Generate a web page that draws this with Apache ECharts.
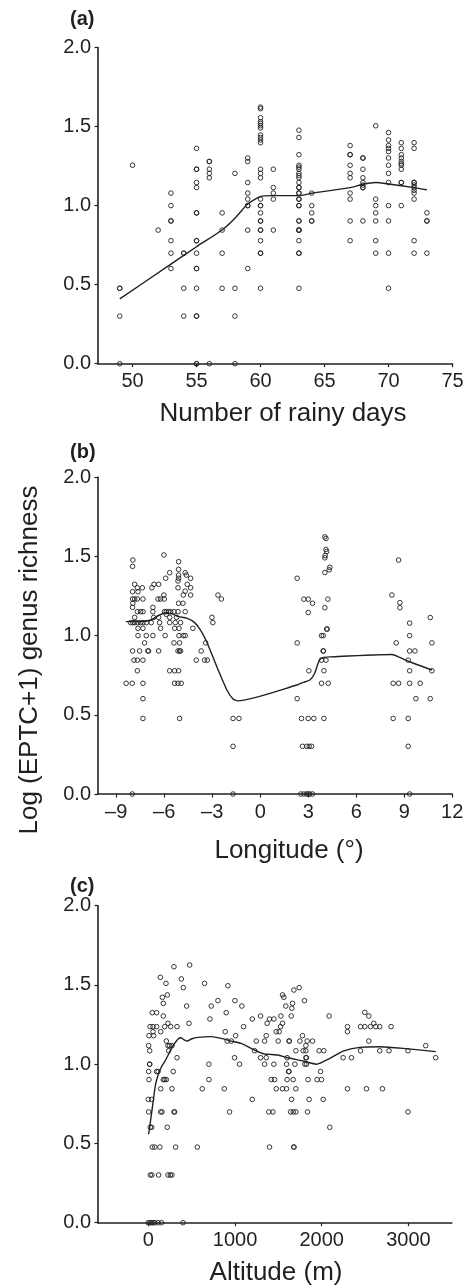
<!DOCTYPE html>
<html><head><meta charset="utf-8">
<script src="https://cdn.jsdelivr.net/npm/echarts@6/dist/echarts.min.js"></script>
<style>html,body{margin:0;padding:0;background:#fff}#c{width:473px;height:1286px}</style>
</head><body><div id="c"></div>
<script>
// ---------- Panel (a): Number of rainy days ----------
const rainyDayValues = [49,50,52,53,54,55,56,57,58,59,60,61,63,64,67,68,69,70,71,72,73];
const richnessByRainyDay = [
  [0.477,0.477,0.301,0],
  [1.255],
  [0.845],
  [1.079,1.0,0.903,0.903,0.778,0.699,0.602],
  [0.699,0.699,0.477,0.301],
  [1.362,1.230,1.230,1.146,1.114,0.954,0.954,0.778,0.778,0.699,0.602,0.602,0.477,0.301,0.301,0,0],
  [1.279,1.279,1.230,1.204,1.176,0],
  [0.954,0.845,0.699,0.477],
  [1.204,0.477,0.301,0],
  [1.301,1.279,1.146,1.079,1.041,1.0,1.0,0.845,0.602],
  [1.623,1.613,1.556,1.531,1.519,1.505,1.491,1.447,1.431,1.415,1.398,1.230,1.204,1.176,1.041,1.0,1.0,0.954,0.903,0.903,0.845,0.845,0.778,0.699,0.699,0.477],
  [1.230,1.114,1.079,1.041,0.845],
  [1.477,1.431,1.322,1.255,1.243,1.230,1.204,1.190,1.176,1.146,1.114,1.114,1.079,1.079,1.041,1.041,1.0,1.0,0.903,0.903,0.845,0.845,0.845,0.778,0.699,0.699,0.477],
  [1.079,1.0,0.954,0.903,0.903],
  [1.380,1.322,1.322,1.255,1.204,1.176,1.079,1.041,0.903,0.778],
  [1.301,1.301,1.230,1.176,1.146,1.130,1.114,1.114,0.903],
  [1.505,1.041,1.0,0.954,0.903,0.778,0.699],
  [1.462,1.415,1.380,1.362,1.342,1.301,1.255,1.204,1.146,1.0,0.903,0.699,0.477],
  [1.398,1.362,1.322,1.301,1.279,1.265,1.255,1.230,1.146,1.146,1.0],
  [1.398,1.362,1.146,1.146,1.130,1.114,1.097,1.079,1.041,0.778,0.699],
  [0.954,0.903,0.903,0.699]
];
const rainyLoessX = [49,53,55,57,58,59,60,61,63,64,67,68,69,70,72,73];
const rainyLoessY = [0.41,0.63,0.74,0.846,0.92,1.01,1.058,1.063,1.063,1.078,1.114,1.135,1.146,1.137,1.114,1.10];
const rainyTicks = [50,55,60,65,70,75];

// ---------- Panel (b): Longitude ----------
const lonX = [-7.96,-7.98,-6.02,-5.10,-5.10,-5.10,-5.10,-5.14,-5.66,-5.91,-4.69,-4.62,-4.35,-4.56,-4.35,-4.69,-4.35,-4.81,
  -7.85,-7.68,-7.37,-6.77,-6.64,-6.35,-5.14,-7.98,-7.64,-7.98,-7.85,-7.68,-7.33,-6.39,-6.23,-6.02,-6.00,-5.10,-4.83,-7.96,-7.98,
  -7.68,-7.48,-7.33,-6.71,-6.71,-5.98,-5.87,-5.73,-5.60,-5.39,-5.14,-4.69,-7.85,-6.66,-6.35,-5.87,-5.66,-5.23,
  -8.10,-7.96,-7.85,-7.68,-7.48,-7.33,-7.12,-6.81,-6.29,-5.66,-5.31,-4.98,-7.64,-7.33,-6.23,-5.35,-5.08,-4.21,
  -7.64,-7.12,-6.71,-5.94,-5.08,-4.81,-4.69,-7.23,-5.39,-5.04,-3.41,-7.98,-7.54,-7.02,-6.98,-6.35,-5.14,-5.04,-4.98,-3.69,
  -7.89,-7.68,-7.33,-4.00,-3.48,-3.31,-7.68,-5.66,-5.35,-5.10,-8.38,-8.00,-7.33,-5.35,-5.14,-4.94,-7.33,-7.33,-5.04,
  -1.70,-1.33,-1.70,-8.00,-1.70,-2.64,-2.43,-3.02,-2.96,
  4.04,4.11,4.11,4.15,4.06,4.04,4.35,4.31,4.04,2.31,2.73,3.00,3.27,3.00,4.23,4.04,4.19,4.15,3.83,3.94,2.31,3.94,3.94,
  3.83,4.11,3.04,3.98,3.83,4.25,2.31,2.58,3.00,3.35,3.98,2.64,2.90,3.06,3.21,2.54,2.73,2.90,3.00,3.10,3.27,
  8.65,8.23,8.73,8.73,10.63,9.34,9.34,10.73,8.50,9.34,9.67,9.25,9.34,10.73,8.31,8.65,9.34,10.0,9.73,10.63,8.31,9.25,9.25,9.34];
const lonY = [1.477,1.437,1.509,1.467,1.418,1.382,1.362,1.345,1.397,1.362,1.397,1.382,1.362,1.324,1.302,1.281,1.256,1.256,
  1.324,1.302,1.302,1.302,1.324,1.324,1.302,1.277,1.277,1.231,1.231,1.231,1.231,1.231,1.231,1.256,1.231,1.204,1.204,1.204,1.178,
  1.151,1.151,1.151,1.178,1.151,1.151,1.151,1.151,1.151,1.151,1.151,1.151,1.115,1.115,1.115,1.134,1.115,1.115,
  1.082,1.082,1.082,1.082,1.082,1.082,1.082,1.082,1.082,1.082,1.082,1.082,1.046,1.046,1.046,1.046,1.046,1.046,
  1.0,1.0,1.0,1.0,1.0,1.0,1.0,0.954,0.954,0.954,0.954,0.903,0.903,0.903,0.903,0.903,0.903,0.903,0.903,0.903,
  0.845,0.845,0.845,0.845,0.845,0.845,0.778,0.778,0.778,0.778,0.699,0.699,0.699,0.699,0.699,0.699,0.602,0.477,0.477,
  0.477,0.477,0.301,0,0,1.256,1.231,1.115,1.082,
  1.623,1.613,1.544,1.531,1.505,1.491,1.431,1.415,1.398,1.362,1.230,1.230,1.204,1.146,1.230,1.176,1.041,1.041,1.0,1.0,0.954,0.903,0.903,
  0.845,0.845,0.778,0.778,0.699,0.699,0.602,0.477,0.477,0.477,0.477,0.301,0.301,0.301,0.301,0,0,0,0,0,0,
  1.477,1.256,1.208,1.176,1.114,1.079,1.0,0.954,0.954,0.903,0.903,0.845,0.778,0.778,0.699,0.699,0.699,0.699,0.602,0.602,0.477,0.477,0.301,0];
const lonLoessX = [-8.4,-7.5,-6.8,-6.3,-6.0,-5.6,-5.1,-4.6,-4.1,-3.7,-3.3,-2.7,-2.1,-1.7,-1.4,2.3,2.7,3.1,3.4,3.7,3.95,4.35,8.23,8.73,9.34,10.73];
const lonLoessY = [1.088,1.088,1.10,1.13,1.141,1.14,1.12,1.11,1.082,1.03,0.95,0.80,0.66,0.60,0.588,0.688,0.705,0.72,0.761,0.846,0.862,0.866,0.881,0.862,0.835,0.783];
const lonTicks = [-9,-6,-3,0,3,6,9,12];

// ---------- Panel (c): Altitude ----------
const altX = [296,477,139,204,381,404,649,918,162,219,173,442,726,803,999,1079,46,96,173,899,711,469,20,54,96,143,54,189,227,258,331,
  8,62,887,1007,1099,1199,1295,1371,1398,1448,4,16,208,227,246,273,235,910,957,1245,1341,1360,1475,331,995,1225,1295,1360,
  16,16,699,1052,1341,1448,4,96,113,288,8,173,189,208,699,1418,1456,143,273,622,876,1475,0,38,1199,4,143,158,296,304,937,1390,1437,
  23,38,219,46,75,133,315,565,1398,23,42,119,227,254,273,0,19,38,56,75,113,152,400,
  1740,1679,1548,1563,1801,1586,1663,1656,1648,1529,1548,1525,1509,2085,2497,2543,2297,2297,2447,2497,2562,2600,2623,2669,2800,
  1498,1624,1624,1748,1832,1894,1778,1817,2543,3199,1702,1786,1817,1970,2024,2447,2669,2776,2995,1601,1817,1824,2247,2343,3314,
  1594,1690,1805,1824,1986,1617,1624,1601,1671,1843,1947,1997,1548,1594,1702,2297,2516,2700,1652,1855,2017,1640,1671,1702,1836,2995,
  2093,1679,1679];
const altY = [1.615,1.626,1.548,1.510,1.538,1.483,1.510,1.495,1.422,1.437,1.384,1.367,1.367,1.401,1.401,1.367,1.325,1.325,1.304,1.325,1.285,1.258,1.237,1.237,1.237,1.205,1.205,1.237,1.258,1.237,1.237,
  1.180,1.180,1.205,1.180,1.237,1.285,1.304,1.258,1.285,1.285,1.117,1.085,1.146,1.117,1.117,1.117,1.085,1.146,1.146,1.146,1.146,1.180,1.205,1.041,1.041,1.085,1.041,1.041,
  1.0,1.0,1.0,1.0,1.0,1.0,0.954,0.954,0.954,0.954,0.903,0.903,0.903,0.903,0.903,0.903,0.903,0.845,0.845,0.845,0.845,0.845,0.778,0.778,0.778,0.699,0.699,0.699,0.699,0.699,0.699,0.699,0.699,
  0.602,0.602,0.602,0.477,0.477,0.477,0.477,0.477,0.477,0.301,0.301,0.301,0.301,0.301,0.301,0,0,0,0,0,0,0,0,
  1.483,1.468,1.437,1.422,1.401,1.367,1.384,1.353,1.304,1.304,1.258,1.237,1.205,1.304,1.327,1.304,1.237,1.205,1.237,1.237,1.237,1.258,1.237,1.237,1.237,
  1.146,1.146,1.146,1.146,1.146,1.146,1.180,1.117,1.146,1.117,1.085,1.085,1.085,1.085,1.085,1.085,1.085,1.085,1.085,1.041,1.041,1.041,1.041,1.041,1.041,
  1.0,1.0,1.0,1.0,0.954,0.954,0.954,0.903,0.903,0.903,0.903,0.903,0.845,0.845,0.845,0.845,0.845,0.845,0.778,0.778,0.778,0.699,0.699,0.699,0.699,0.699,
  0.602,0.477,0.477];
const altLoessX = [4,27,56,83,113,152,189,229,267,305,344,374,413,450,496,572,726,841,957,1071,1225,1341,1402,1495,1594,1786,1940,2094,2247,2439,2670,2939,3315];
const altLoessY = [0.558,0.648,0.764,0.869,0.932,0.984,1.016,1.058,1.10,1.132,1.159,1.167,1.154,1.146,1.159,1.169,1.174,1.163,1.146,1.131,1.089,1.064,1.062,1.058,1.042,1.02,1.0,1.037,1.083,1.106,1.11,1.10,1.079];
const altTicks = [0,1000,2000,3000];

const yTicks = [0,0.5,1.0,1.5,2.0];

// ---------- chart ----------
const ink = '#231f20';
const FF = '"Liberation Sans", Arial, Helvetica, sans-serif';

function pairs(xs, ys) { return xs.map((x, i) => [x, ys[i]]); }
const rainyPts = [];
rainyDayValues.forEach((d, i) => richnessByRainyDay[i].forEach(v => rainyPts.push([d, v])));

const grids = [
  {left: 98, top: 47.5, width: 354.5, height: 316.2},
  {left: 98, top: 477.2, width: 354.2, height: 316.8},
  {left: 98, top: 905.7, width: 353.8, height: 317}
];
function xAx(gi, min, max, ticks, fmt) {
  return {type: 'value', gridIndex: gi, min: min, max: max,
    axisLine: {show: true, onZero: false, lineStyle: {color: ink, width: 1.6}},
    axisTick: {show: true, length: 3.5, customValues: ticks, lineStyle: {color: ink, width: 1.2}},
    axisLabel: {customValues: ticks, margin: 8, fontSize: 20, color: ink, fontFamily: FF, formatter: fmt},
    splitLine: {show: false}};
}
function yAx(gi) {
  return {type: 'value', gridIndex: gi, min: 0, max: 2,
    axisLine: {show: true, onZero: false, lineStyle: {color: ink, width: 1.6}},
    axisTick: {show: true, length: 3.5, customValues: yTicks, lineStyle: {color: ink, width: 1.2}},
    axisLabel: {customValues: yTicks, margin: 7, fontSize: 20, color: ink, fontFamily: FF, formatter: v => Number(v).toFixed(1)},
    splitLine: {show: false}};
}
function scat(i, data) {
  return {type: 'scatter', xAxisIndex: i, yAxisIndex: i, data: data, symbol: 'circle', symbolSize: 4.6, silent: true,
    itemStyle: {color: 'rgba(255,255,255,0)', borderColor: ink, borderWidth: 0.9, opacity: 1}};
}
function loess(i, data) {
  return {type: 'line', xAxisIndex: i, yAxisIndex: i, data: data, symbol: 'none', showSymbol: false, smooth: 0.2, silent: true,
    lineStyle: {color: ink, width: 1.4}};
}
function txt(x, y, s, size, weight, align, rot) {
  return {type: 'text', x: x, y: y, rotation: rot || 0, silent: true,
    style: {text: s, fill: ink, font: (weight || 'normal') + ' ' + size + 'px ' + FF, textAlign: align || 'left', textVerticalAlign: 'middle'}};
}

const chart = echarts.init(document.getElementById('c'), null, {renderer: 'canvas'});
chart.setOption({
  animation: false,
  backgroundColor: '#ffffff',
  grid: grids,
  xAxis: [
    xAx(0, 47.3, 75, rainyTicks, v => String(v)),
    xAx(1, -10.14, 12, lonTicks, v => (v < 0 ? '\u2013' + Math.abs(v) : String(v))),
    xAx(2, -580, 3500, altTicks, v => String(v))
  ],
  yAxis: [yAx(0), yAx(1), yAx(2)],
  series: [
    scat(0, rainyPts), loess(0, pairs(rainyLoessX, rainyLoessY)),
    scat(1, pairs(lonX, lonY)), loess(1, pairs(lonLoessX, lonLoessY)),
    scat(2, pairs(altX, altY)), loess(2, pairs(altLoessX, altLoessY))
  ],
  graphic: [
    txt(70, 19, '(a)', 20, 'bold'),
    txt(70, 452.5, '(b)', 20, 'bold'),
    txt(70, 886, '(c)', 20, 'bold'),
    txt(283, 414, 'Number of rainy days', 26, 'normal', 'center'),
    txt(289, 850.5, 'Longitude (\u00b0)', 26, 'normal', 'center'),
    txt(276, 1272.5, 'Altitude (m)', 26, 'normal', 'center'),
    txt(30, 660, 'Log (EPTC+1) genus richness', 26, 'normal', 'center', Math.PI / 2)
  ]
});
</script>
</body></html>
